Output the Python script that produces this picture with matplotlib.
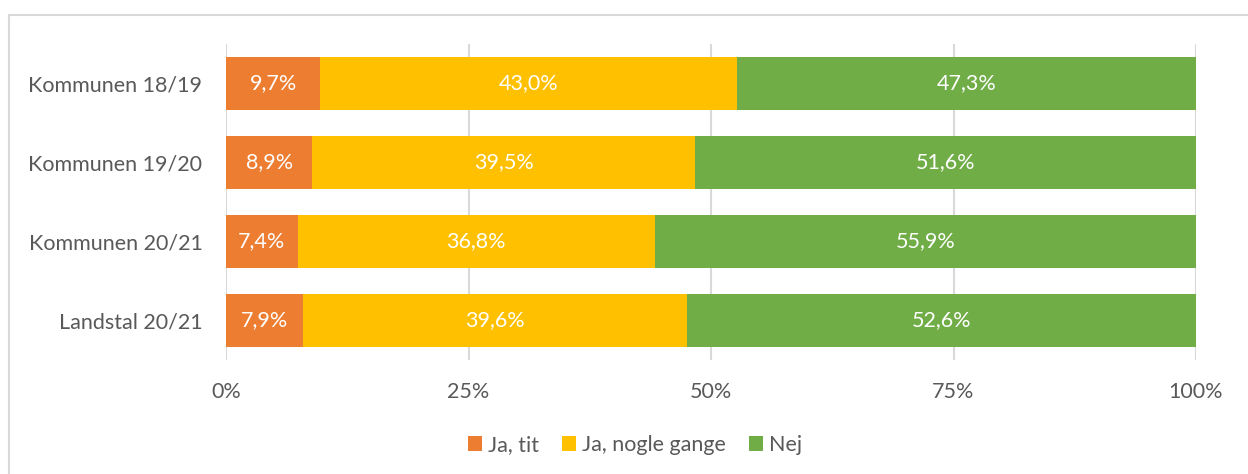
import matplotlib.pyplot as plt
from matplotlib.patches import Rectangle
import numpy as np

plt.rcParams['font.family'] = ['Lato', 'DejaVu Sans']

categories = ['Kommunen 18/19', 'Kommunen 19/20', 'Kommunen 20/21', 'Landstal 20/21']
ja_tit = [9.7, 8.9, 7.4, 7.9]
ja_nogle = [43.0, 39.5, 36.8, 39.6]
nej = [47.3, 51.6, 55.9, 52.6]
series_names = ['Ja, tit', 'Ja, nogle gange', 'Nej']
colors = ['#ED7D31', '#FFC000', '#70AD47']
xticks = [0, 25, 50, 75, 100]
xtick_labels = ['0%', '25%', '50%', '75%', '100%']

fig = plt.figure(figsize=(12.48, 4.74), dpi=100)
ax = fig.add_axes([226 / 1248, 1 - 360 / 474, 970 / 1248, 316 / 474])

# grey frame around the chart area
fig.patches.append(Rectangle((9 / 1248, -0.1), 1.2, 1 - 15 / 474 + 0.1,
                             transform=fig.transFigure, fill=False,
                             edgecolor='#D9D9D9', linewidth=1.5))

y = np.arange(len(categories))
left = np.zeros(len(categories))
for vals, name, col in zip([ja_tit, ja_nogle, nej], series_names, colors):
    vals = np.array(vals)
    bars = ax.barh(y, vals, left=left, height=0.66, color=col, label=name, zorder=3)
    for b, v in zip(bars, vals):
        ax.text(b.get_x() + b.get_width() / 2, b.get_y() + b.get_height() / 2,
                f'{v:.1f}%'.replace('.', ','), ha='center', va='center',
                color='white', fontsize=15.5, zorder=4)
    left += vals

ax.set_xlim(0, 100)
ax.set_ylim(len(categories) - 0.5, -0.5)
ax.set_yticks(y)
ax.set_yticklabels(categories)
ax.set_xticks(xticks)
ax.set_xticklabels(xtick_labels)
ax.tick_params(length=0, labelsize=15.5, labelcolor='#595959')
ax.tick_params(axis='x', pad=16)
ax.tick_params(axis='y', pad=17)
ax.grid(axis='x', color='#D9D9D9', linewidth=1.5, zorder=0)
for s in ax.spines.values():
    s.set_visible(False)

leg = fig.legend(loc='center', bbox_to_anchor=(635 / 1248, 1 - 445 / 474), ncol=3,
                 frameon=False, fontsize=15.5, handlelength=0.65, handleheight=0.65,
                 handletextpad=0.25, columnspacing=1.1)
for t in leg.get_texts():
    t.set_color('#595959')

fig.savefig('out.png', dpi=100)
